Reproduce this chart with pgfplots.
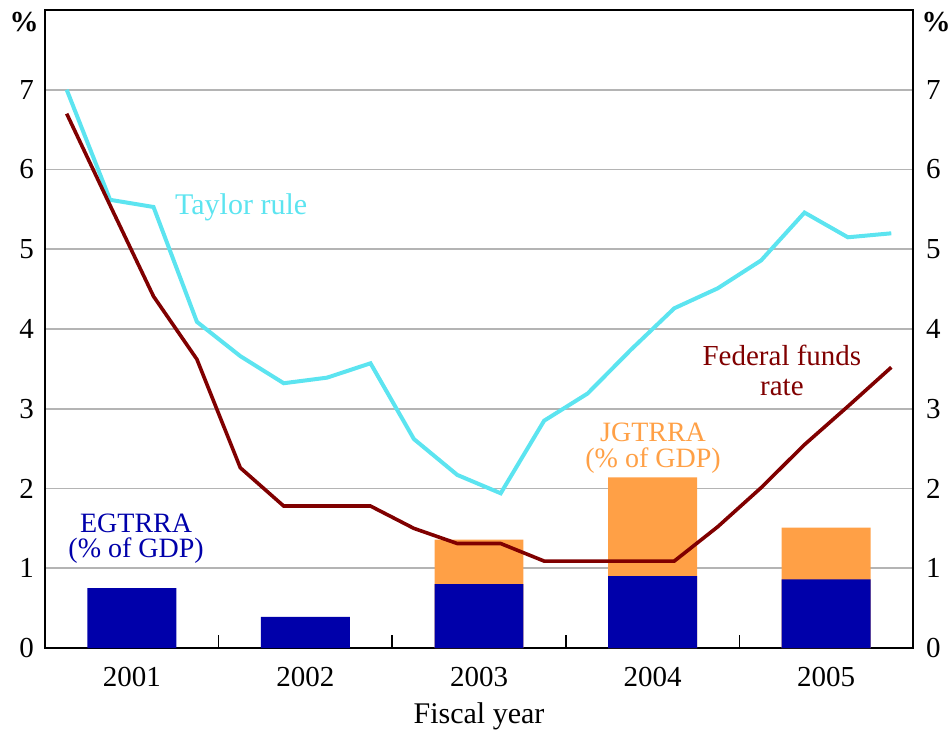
\documentclass[border=0pt]{standalone}
\usepackage{fontspec}
\setmainfont{Liberation Serif}
\usepackage{pgfplots}
\pgfplotsset{compat=1.18}
\definecolor{cyanl}{RGB}{92,228,240}
\definecolor{dred}{RGB}{128,0,0}
\definecolor{bblue}{RGB}{0,0,170}
\definecolor{orng}{RGB}{255,160,70}
\definecolor{gridg}{RGB}{180,180,180}
\begin{document}
\begin{tikzpicture}
\path[use as bounding box] (-22.5pt,-42.5pt) rectangle (453pt,324pt);
\pgfplotsset{
  base/.style={
    scale only axis, width=434pt, height=319pt,
    xmin=0, xmax=20, ymin=0, ymax=8,
    ytick={0,1,2,3,4,5,6,7},
    /pgf/number format/assume math mode=true,
    ticklabel style={font=\fontsize{14.5}{16}\selectfont},
    major tick length=0pt,
  }
}
\begin{axis}[base,
  clip=false,
  axis line style={line width=1.2pt},
  ymajorgrids, grid style={gridg, line width=0.8pt},
  xtick={2,6,10,14,18},
  xticklabels={2001,2002,2003,2004,2005},
  xticklabel style={yshift=-6pt},
  extra x ticks={4,8,12,16},
  extra x tick labels={},
  extra x tick style={grid=none, major tick length=6.5pt, tick style={black, line width=0.8pt}},
  tick align=inside,
  xtick pos=bottom,
  ytick pos=left,
  yticklabel style={xshift=-2pt},
]
% bars: orange total first, blue EGTRRA over it
\addplot[ybar, bar width=2.05, bar shift=0pt, fill=orng, draw=none] coordinates {(10,1.36) (14,2.14) (18,1.51)};
\addplot[ybar, bar width=2.05, bar shift=0pt, fill=bblue, draw=none] coordinates {(2,0.75) (6,0.39) (10,0.80) (14,0.90) (18,0.86)};
% Taylor rule
\addplot[cyanl, line width=2pt, mark=none] coordinates {
(0.5,7.00) (1.5,5.62) (2.5,5.53) (3.5,4.09) (4.5,3.66) (5.5,3.32) (6.5,3.39) (7.5,3.57)
(8.5,2.62) (9.5,2.17) (10.5,1.94) (11.5,2.85) (12.5,3.19) (13.5,3.74) (14.5,4.26) (15.5,4.51)
(16.5,4.86) (17.5,5.46) (18.5,5.15) (19.5,5.20)};
% Federal funds rate
\addplot[dred, line width=1.8pt, mark=none] coordinates {
(0.5,6.70) (1.5,5.55) (2.5,4.41) (3.5,3.62) (4.5,2.26) (5.5,1.78) (6.5,1.78) (7.5,1.78)
(8.5,1.50) (9.5,1.31) (10.5,1.31) (11.5,1.09) (12.5,1.09) (13.5,1.09) (14.5,1.09) (15.5,1.52)
(16.5,2.01) (17.5,2.55) (18.5,3.03) (19.5,3.52)};
\node[cyanl, font=\fontsize{15}{16}\selectfont] at (axis cs:4.52,5.525) {Taylor rule};
\node[dred, align=center, font=\fontsize{14.5}{15}\selectfont] at (axis cs:16.98,3.475) {Federal funds\\rate};
\node[orng, align=center, font=\fontsize{14}{13}\selectfont] at (axis cs:14.01,2.51) {JGTRRA\\(\% of GDP)};
\node[bblue, align=center, font=\fontsize{14}{12.6}\selectfont] at (axis cs:2.10,1.375) {EGTRRA\\(\% of GDP)};
\node[font=\bfseries\fontsize{14.5}{16}\selectfont] at (axis cs:-0.48,7.85) {\%};
\node[font=\bfseries\fontsize{14.5}{16}\selectfont] at (axis cs:20.53,7.85) {\%};
\node[font=\fontsize{15}{16}\selectfont] at (axis cs:10,-0.86) {Fiscal year};
\end{axis}
\begin{axis}[base,
  axis x line=none, axis y line*=right,
  axis line style={line width=1.2pt},
  xtick=\empty,
  yticklabel style={xshift=3pt},
]
\addplot[draw=none] coordinates {(0,0)};
\end{axis}
\end{tikzpicture}
\end{document}
